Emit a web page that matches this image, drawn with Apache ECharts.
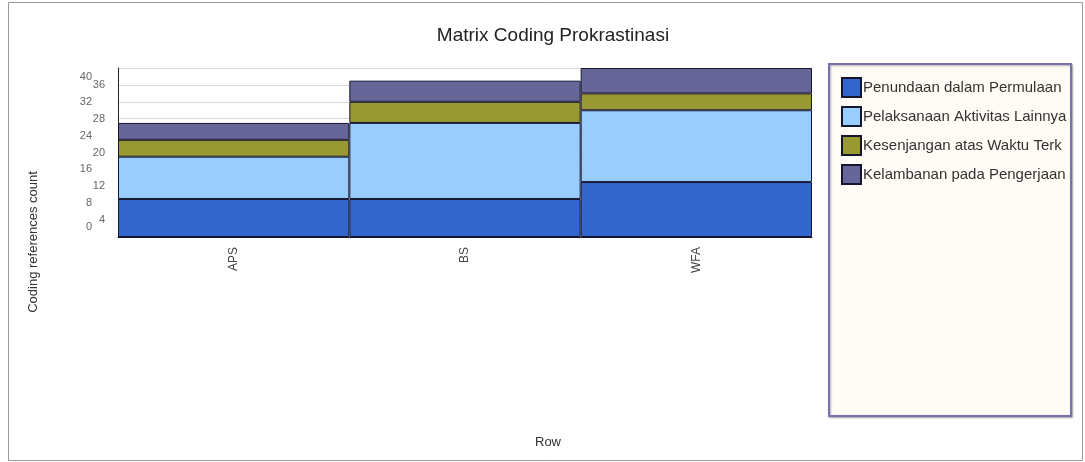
<!DOCTYPE html>
<html>
<head>
<meta charset="utf-8">
<script src="https://cdn.jsdelivr.net/npm/echarts@6/dist/echarts.min.js"></script>
<style>
	html,body{margin:0;padding:0;background:#fff;}
	#chart{width:1085px;height:462px;}
</style>
</head>
<body>
<div id="chart"></div>
<script>
	// data
	var categories = ["APS","BS","WFA"];
	var seriesNames = ["Penundaan dalam Permulaan","Pelaksanaan Aktivitas Lainnya","Kesenjangan atas Waktu Terkait","Kelambanan pada Pengerjaan"];
	var penundaan = [9,9,13];
	var pelaksanaan = [10,18,17];
	var kesenjangan = [4,5,4];
	var kelambanan = [4,5,6];
	var colors = ["#3366cc","#99ccff","#999933","#666699"];

	var valueLists = [penundaan,pelaksanaan,kesenjangan,kelambanan];
	var font = "'Liberation Sans', Arial, sans-serif";

	var series = [];
	valueLists.forEach(function(vals,i){
		series.push({
			name:seriesNames[i],
			type:'bar',
			stack:'total',
			barCategoryGap:'0%',
			itemStyle:{color:colors[i],borderColor:'#15152e',borderWidth:1},
			data:vals
		});
	});

	var myChart = echarts.init(document.getElementById("chart"));
	var option = {
		backgroundColor:'#fff',
		animation:false,
		title:{
			text:"Matrix Coding Prokrastinasi",
			left:548,
			textAlign:'center',
			top:21,
			textStyle:{fontFamily:font,fontSize:19,fontWeight:'normal',color:'#222'}
		},
		graphic:[
			{type:'rect',shape:{x:8.5,y:2.5,width:1074,height:458},style:{fill:null,stroke:'#9a9a9a',lineWidth:1},z:-10},
			{type:'rect',shape:{x:829,y:64,width:242,height:352},style:{fill:'#fffcf5',stroke:'#7771ae',lineWidth:2,shadowBlur:2,shadowOffsetX:1,shadowOffsetY:1,shadowColor:'rgba(0,0,0,0.3)'},z:-5},
			{type:'text',x:33,y:242,rotation:Math.PI/2,style:{text:'Coding references count',fill:'#333',font:'13px '+font,align:'center',verticalAlign:'middle'}},
			{type:'text',x:548,y:442,style:{text:'Row',fill:'#333',font:'13px '+font,align:'center',verticalAlign:'middle'}}
		],
		legend:{
			orient:'vertical',
			left:836,
			top:72,
			itemWidth:19,
			itemHeight:19,
			itemGap:8,
			icon:'rect',
			data:seriesNames,
			textStyle:{fontFamily:font,fontSize:15,color:'#333',padding:[0,0,0,-3],width:206,overflow:'truncate',ellipsis:''}
		},
		grid:{left:118,right:273,top:68,bottom:225},
		xAxis:{
			type:'category',
			data:categories,
			axisLine:{show:true,lineStyle:{color:'#15152e'}},
			axisTick:{show:false},
			axisLabel:{rotate:90,margin:10,fontFamily:font,fontSize:12,color:'#444'}
		},
		yAxis:{
			type:'value',
			min:0,
			max:40,
			interval:4,
			axisLine:{show:true,lineStyle:{color:'#222'}},
			axisTick:{show:false},
			splitLine:{lineStyle:{color:'#d8d8d8'}},
			axisLabel:{
				margin:13,
				fontFamily:font,
				fontSize:11,
				color:'#666',
				formatter:function(v){
					//两列错开, 0 和 40 往里收
					if(v===0) return '{c|'+v+'}';
					if(v===40) return '{d|'+v+'}';
					return v%8===0 ? '{a|'+v+'}' : '{b|'+v+'}';
				},
				rich:{
					a:{fontFamily:font,fontSize:11,color:'#666',padding:[0,13,0,0]},
					b:{fontFamily:font,fontSize:11,color:'#666'},
					c:{fontFamily:font,fontSize:11,color:'#666',padding:[0,13,20,0]},
					d:{fontFamily:font,fontSize:11,color:'#666',padding:[18,13,0,0]}
				}
			}
		},
		series:series
	};
	myChart.setOption(option);
</script>
</body>
</html>
